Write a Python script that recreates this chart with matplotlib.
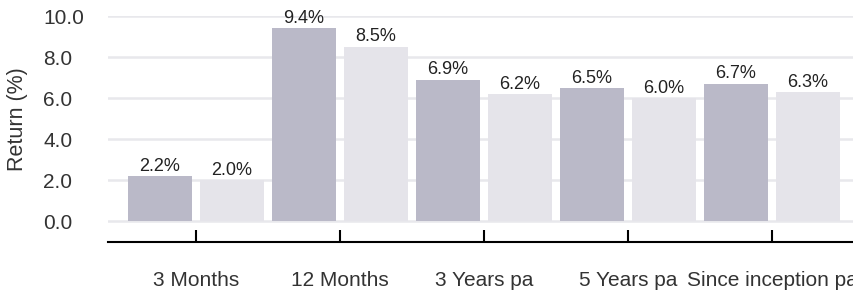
import matplotlib
matplotlib.use("Agg")
import matplotlib.pyplot as plt

# Datos del gráfico
periodos = ["3 Months", "12 Months", "3 Years pa", "5 Years pa", "Since inception pa"]
serie_a = [2.2, 9.4, 6.9, 6.5, 6.7]
serie_b = [2.0, 8.5, 6.2, 6.0, 6.3]
y_ticks = [0, 2, 4, 6, 8, 10]

plt.rcParams['font.family'] = ['Liberation Sans', 'DejaVu Sans']

fig = plt.figure(figsize=(8.54, 2.94), dpi=100)
ax = fig.add_axes([108 / 854, 52 / 294, 752 / 854, 226 / 294])

x = list(range(len(periodos)))
ancho = 0.451
color_a = '#bab9c8'
color_b = '#e5e4ea'

barras_a = ax.bar([i - 0.25 for i in x], serie_a, width=ancho, color=color_a, zorder=2)
barras_b = ax.bar([i + 0.25 for i in x], serie_b, width=ancho, color=color_b, zorder=2)

# Etiquetas de valor encima de cada barra
for barras in (barras_a, barras_b):
    ax.bar_label(barras, labels=[f"{v:.1f}%" for v in barras.datavalues],
                 padding=1, fontsize=13, color='#222222')

ax.set_xlim(-0.611, 4.611)
ax.set_ylim(-1, 10)
ax.set_yticks(y_ticks)
ax.set_yticklabels([f"{v:.1f}" for v in y_ticks])
ax.set_xticks(x)
ax.set_xticklabels(periodos)

ax.grid(axis='y', color='#e8e8ec', linewidth=1.8, zorder=0)
ax.set_axisbelow(True)

for lado in ('top', 'right', 'left'):
    ax.spines[lado].set_visible(False)
ax.spines['bottom'].set_color('black')
ax.spines['bottom'].set_linewidth(1.5)

# Etiquetas del eje Y alineadas a la izquierda
ax.tick_params(axis='y', length=0, pad=46.5, labelsize=15, labelcolor='#333333')
for etiqueta in ax.get_yticklabels():
    etiqueta.set_horizontalalignment('left')
ax.tick_params(axis='x', direction='in', length=8.6, width=1.5, pad=21,
               labelsize=15, labelcolor='#333333')

ax.set_ylabel('Return (%)', fontsize=15.5, color='#333333')
ax.yaxis.set_label_coords(-0.107, 0.5 + 0.5 / 11)

fig.savefig('out.png', dpi=100)
